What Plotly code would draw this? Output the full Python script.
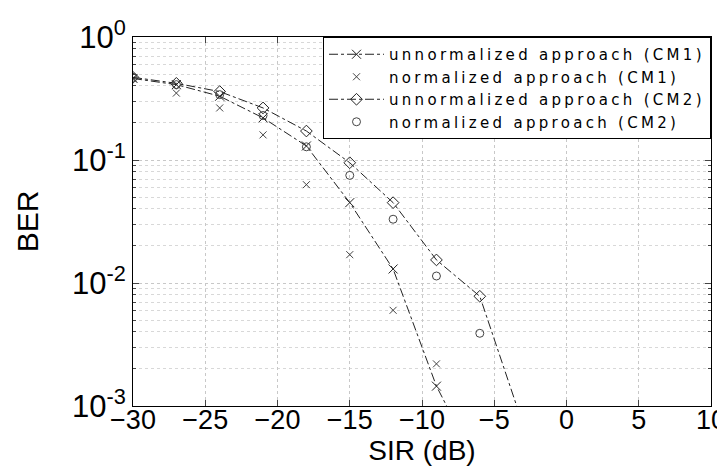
import plotly.graph_objects as go

sir = [-30, -27, -24, -21, -18, -15, -12, -9, -6, -3]

ber_unnorm_cm1 = [0.46, 0.41, 0.33, 0.22, 0.13, 0.045, 0.013, 0.00145, 0.0003]
ber_norm_cm1 = [0.46, 0.35, 0.265, 0.16, 0.063, 0.017, 0.006, 0.0022]
ber_unnorm_cm2 = [0.47, 0.42, 0.36, 0.265, 0.172, 0.095, 0.045, 0.0154, 0.0078, 0.0007]
ber_norm_cm2 = [0.47, 0.41, 0.34, 0.23, 0.128, 0.075, 0.033, 0.0114, 0.0039]

x_ticks = [-30, -25, -20, -15, -10, -5, 0, 5, 10]
y_tickvals = [1e-3, 1e-2, 1e-1, 1]
y_ticktext = ["10<sup>-3</sup>", "10<sup>-2</sup>", "10<sup>-1</sup>", "10<sup>0</sup>"]

names = ["unnormalized approach (CM1)", "normalized approach (CM1)",
         "unnormalized approach (CM2)", "normalized approach (CM2)"]
legend_style = "letter-spacing:3.3px"

fig = go.Figure()
fig.add_trace(go.Scatter(
    x=sir[:len(ber_unnorm_cm1)], y=ber_unnorm_cm1,
    name=f"<span style='{legend_style}'>{names[0]}</span>", mode="lines+markers",
    line=dict(color="#222", width=1, dash="dashdot"),
    marker=dict(symbol="x-thin-open", size=9, color="#222", line=dict(width=1, color="#222"))))
fig.add_trace(go.Scatter(
    x=sir[:len(ber_norm_cm1)], y=ber_norm_cm1,
    name=f"<span style='{legend_style}'>{names[1]}</span>", mode="markers",
    marker=dict(symbol="x-thin-open", size=7, color="#444", line=dict(width=1, color="#444"))))
fig.add_trace(go.Scatter(
    x=sir[:len(ber_unnorm_cm2)], y=ber_unnorm_cm2,
    name=f"<span style='{legend_style}'>{names[2]}</span>", mode="lines+markers",
    line=dict(color="#222", width=1, dash="dashdot"),
    marker=dict(symbol="diamond-open", size=9, color="#222", line=dict(width=1, color="#222"))))
fig.add_trace(go.Scatter(
    x=sir[:len(ber_norm_cm2)], y=ber_norm_cm2,
    name=f"<span style='{legend_style}'>{names[3]}</span>", mode="markers",
    marker=dict(symbol="circle-open", size=8, color="#444", line=dict(width=1, color="#444"))))

fig.update_layout(
    width=725, height=466,
    margin=dict(l=125, r=22, t=29, b=68),
    paper_bgcolor="white", plot_bgcolor="white",
    font=dict(family="Liberation Sans, Arial, sans-serif", color="black"),
    showlegend=True,
    legend=dict(x=1, y=1, xanchor="right", yanchor="top",
                bgcolor="white", bordercolor="black", borderwidth=1,
                font=dict(size=15, family="DejaVu Sans, sans-serif"),
                itemwidth=55, tracegroupgap=0),
)
fig.update_xaxes(
    range=[-30, 10], tickvals=x_ticks, ticks="inside", ticklen=6,
    tickfont=dict(size=27), ticklabelstandoff=-10,
    showline=True, linecolor="black", linewidth=1,
    mirror="allticks", showgrid=True, gridcolor="#c8c8c8", griddash="dot", gridwidth=1,
    zeroline=False, automargin=False,
    title=dict(text="SIR (dB)", font=dict(size=28), standoff=4),
)
fig.update_yaxes(
    type="log", range=[-3, 0], tickvals=y_tickvals, ticktext=y_ticktext,
    ticks="inside", ticklen=6, tickfont=dict(size=31),
    showline=True, linecolor="black", linewidth=1, mirror="allticks",
    showgrid=True, gridcolor="#c8c8c8", griddash="dot", gridwidth=1,
    minor=dict(ticks="inside", ticklen=3, showgrid=True, gridcolor="#d8d8d8", griddash="dot",
               tickvals=[k * 10**e for e in (-3, -2, -1) for k in range(2, 10)]),
    zeroline=False, automargin=False,
    title=dict(text="BER", font=dict(size=30), standoff=24),
)

fig.write_html("out.html")
